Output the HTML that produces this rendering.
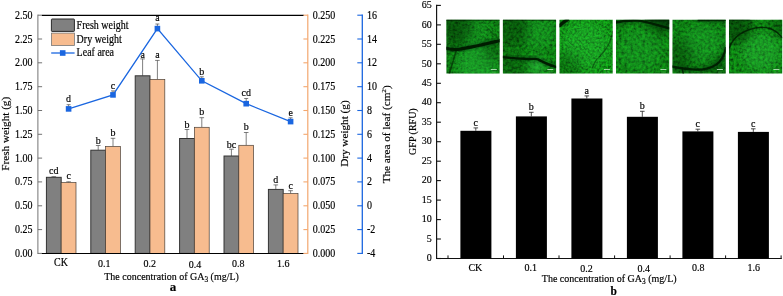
<!DOCTYPE html>
<html><head><meta charset="utf-8"><title>Figure</title>
<style>html,body{margin:0;padding:0;background:#fff}svg{display:block}text{stroke:#000;stroke-width:.16px}</style></head>
<body><svg width="783" height="296" viewBox="0 0 783 296">
<rect width="783" height="296" fill="#fff"/>
<g font-family='"Liberation Serif", "Times New Roman", serif' font-size="10" fill="#000">
<path d="M53.8 177.3V176.7M51.5 176.7H56.1" stroke="#3a3a3a" stroke-width="0.65" fill="none"/>
<path d="M68.6 182.5V181.8M66.3 181.8H70.9" stroke="#3a3a3a" stroke-width="0.65" fill="none"/>
<rect x="46.4" y="177.3" width="14.8" height="76.1" fill="#808080" stroke="#2e2e2e" stroke-width="0.95"/>
<rect x="61.2" y="182.5" width="14.8" height="70.9" fill="#F7BC8F" stroke="#4a4038" stroke-width="0.7"/>
<text transform="translate(53.8,173.7) scale(1,1.08)" text-anchor="middle">cd</text>
<text transform="translate(68.6,179.0) scale(1,1.08)" text-anchor="middle">c</text>
<path d="M98.2 150.2V145.5M95.9 145.5H100.5" stroke="#3a3a3a" stroke-width="0.65" fill="none"/>
<path d="M113.0 146.4V138.3M110.7 138.3H115.3" stroke="#3a3a3a" stroke-width="0.65" fill="none"/>
<rect x="90.8" y="150.2" width="14.8" height="103.2" fill="#808080" stroke="#2e2e2e" stroke-width="0.95"/>
<rect x="105.6" y="146.4" width="14.8" height="107.0" fill="#F7BC8F" stroke="#4a4038" stroke-width="0.7"/>
<text transform="translate(98.2,143.6) scale(1,1.08)" text-anchor="middle">b</text>
<text transform="translate(113.0,136.4) scale(1,1.08)" text-anchor="middle">b</text>
<path d="M142.6 75.8V58.9M140.3 58.9H144.9" stroke="#3a3a3a" stroke-width="0.65" fill="none"/>
<path d="M157.4 79.4V60.4M155.1 60.4H159.7" stroke="#3a3a3a" stroke-width="0.65" fill="none"/>
<rect x="135.2" y="75.8" width="14.8" height="177.6" fill="#808080" stroke="#2e2e2e" stroke-width="0.95"/>
<rect x="150.0" y="79.4" width="14.8" height="174.0" fill="#F7BC8F" stroke="#4a4038" stroke-width="0.7"/>
<text transform="translate(142.6,57.8) scale(1,1.08)" text-anchor="middle">a</text>
<text transform="translate(157.4,57.6) scale(1,1.08)" text-anchor="middle">a</text>
<path d="M187.0 138.5V129.5M184.7 129.5H189.3" stroke="#3a3a3a" stroke-width="0.65" fill="none"/>
<path d="M201.8 127.3V117.7M199.5 117.7H204.1" stroke="#3a3a3a" stroke-width="0.65" fill="none"/>
<rect x="179.6" y="138.5" width="14.8" height="114.9" fill="#808080" stroke="#2e2e2e" stroke-width="0.95"/>
<rect x="194.4" y="127.3" width="14.8" height="126.1" fill="#F7BC8F" stroke="#4a4038" stroke-width="0.7"/>
<text transform="translate(187.0,127.6) scale(1,1.08)" text-anchor="middle">b</text>
<text transform="translate(201.8,115.4) scale(1,1.08)" text-anchor="middle">b</text>
<path d="M231.4 156.0V149.2M229.1 149.2H233.7" stroke="#3a3a3a" stroke-width="0.65" fill="none"/>
<path d="M246.2 145.3V132.5M243.9 132.5H248.5" stroke="#3a3a3a" stroke-width="0.65" fill="none"/>
<rect x="224.0" y="156.0" width="14.8" height="97.4" fill="#808080" stroke="#2e2e2e" stroke-width="0.95"/>
<rect x="238.8" y="145.3" width="14.8" height="108.1" fill="#F7BC8F" stroke="#4a4038" stroke-width="0.7"/>
<text transform="translate(231.4,148.2) scale(1,1.08)" text-anchor="middle">bc</text>
<text transform="translate(246.2,129.8) scale(1,1.08)" text-anchor="middle">b</text>
<path d="M275.8 189.4V184.9M273.5 184.9H278.1" stroke="#3a3a3a" stroke-width="0.65" fill="none"/>
<path d="M290.6 193.5V190.7M288.3 190.7H292.9" stroke="#3a3a3a" stroke-width="0.65" fill="none"/>
<rect x="268.4" y="189.4" width="14.8" height="64.0" fill="#808080" stroke="#2e2e2e" stroke-width="0.95"/>
<rect x="283.2" y="193.5" width="14.8" height="59.9" fill="#F7BC8F" stroke="#4a4038" stroke-width="0.7"/>
<text transform="translate(275.8,182.6) scale(1,1.08)" text-anchor="middle">d</text>
<text transform="translate(290.6,188.5) scale(1,1.08)" text-anchor="middle">c</text>
<path d="M37.9 14.6V254.0" stroke="#6c6c6c" stroke-width="0.95" fill="none"/>
<path d="M37.9 15.2H42.1" stroke="#6c6c6c" stroke-width="0.95"/>
<text transform="translate(32.5,18.7) scale(1,1.2)" text-anchor="end">2.50</text>
<path d="M37.9 39.0H42.1" stroke="#6c6c6c" stroke-width="0.95"/>
<text transform="translate(32.5,42.5) scale(1,1.2)" text-anchor="end">2.25</text>
<path d="M37.9 62.8H42.1" stroke="#6c6c6c" stroke-width="0.95"/>
<text transform="translate(32.5,66.3) scale(1,1.2)" text-anchor="end">2.00</text>
<path d="M37.9 86.7H42.1" stroke="#6c6c6c" stroke-width="0.95"/>
<text transform="translate(32.5,90.2) scale(1,1.2)" text-anchor="end">1.75</text>
<path d="M37.9 110.5H42.1" stroke="#6c6c6c" stroke-width="0.95"/>
<text transform="translate(32.5,114.0) scale(1,1.2)" text-anchor="end">1.50</text>
<path d="M37.9 134.3H42.1" stroke="#6c6c6c" stroke-width="0.95"/>
<text transform="translate(32.5,137.8) scale(1,1.2)" text-anchor="end">1.25</text>
<path d="M37.9 158.1H42.1" stroke="#6c6c6c" stroke-width="0.95"/>
<text transform="translate(32.5,161.6) scale(1,1.2)" text-anchor="end">1.00</text>
<path d="M37.9 181.9H42.1" stroke="#6c6c6c" stroke-width="0.95"/>
<text transform="translate(32.5,185.4) scale(1,1.2)" text-anchor="end">0.75</text>
<path d="M37.9 205.8H42.1" stroke="#6c6c6c" stroke-width="0.95"/>
<text transform="translate(32.5,209.3) scale(1,1.2)" text-anchor="end">0.50</text>
<path d="M37.9 229.6H42.1" stroke="#6c6c6c" stroke-width="0.95"/>
<text transform="translate(32.5,233.1) scale(1,1.2)" text-anchor="end">0.25</text>
<path d="M37.9 253.4H42.1" stroke="#6c6c6c" stroke-width="0.95"/>
<text transform="translate(32.5,256.9) scale(1,1.2)" text-anchor="end">0.00</text>
<path d="M41.9 15.399999999999999H303.8M41.9 253.5H303.8" stroke="#000" stroke-width="1.15" fill="none"/>
<path d="M307.8 14.6V254.0" stroke="#F3A76E" stroke-width="1.2" fill="none"/>
<path d="M307.8 15.2H303.40000000000003" stroke="#F3A76E" stroke-width="1.1"/>
<text transform="translate(312.8,18.7) scale(1,1.2)">0.250</text>
<path d="M307.8 39.0H303.40000000000003" stroke="#F3A76E" stroke-width="1.1"/>
<text transform="translate(312.8,42.5) scale(1,1.2)">0.225</text>
<path d="M307.8 62.8H303.40000000000003" stroke="#F3A76E" stroke-width="1.1"/>
<text transform="translate(312.8,66.3) scale(1,1.2)">0.200</text>
<path d="M307.8 86.7H303.40000000000003" stroke="#F3A76E" stroke-width="1.1"/>
<text transform="translate(312.8,90.2) scale(1,1.2)">0.175</text>
<path d="M307.8 110.5H303.40000000000003" stroke="#F3A76E" stroke-width="1.1"/>
<text transform="translate(312.8,114.0) scale(1,1.2)">0.150</text>
<path d="M307.8 134.3H303.40000000000003" stroke="#F3A76E" stroke-width="1.1"/>
<text transform="translate(312.8,137.8) scale(1,1.2)">0.125</text>
<path d="M307.8 158.1H303.40000000000003" stroke="#F3A76E" stroke-width="1.1"/>
<text transform="translate(312.8,161.6) scale(1,1.2)">0.100</text>
<path d="M307.8 181.9H303.40000000000003" stroke="#F3A76E" stroke-width="1.1"/>
<text transform="translate(312.8,185.4) scale(1,1.2)">0.075</text>
<path d="M307.8 205.8H303.40000000000003" stroke="#F3A76E" stroke-width="1.1"/>
<text transform="translate(312.8,209.3) scale(1,1.2)">0.050</text>
<path d="M307.8 229.6H303.40000000000003" stroke="#F3A76E" stroke-width="1.1"/>
<text transform="translate(312.8,233.1) scale(1,1.2)">0.025</text>
<path d="M307.8 253.4H303.40000000000003" stroke="#F3A76E" stroke-width="1.1"/>
<text transform="translate(312.8,256.9) scale(1,1.2)">0.000</text>
<path d="M362.3 14.6V254.0" stroke="#1A66E0" stroke-width="1.3" fill="none"/>
<path d="M362.3 15.2H357.3" stroke="#1A66E0" stroke-width="1.1"/>
<text transform="translate(367.0,18.7) scale(1,1.2)">16</text>
<path d="M362.3 39.0H357.3" stroke="#1A66E0" stroke-width="1.1"/>
<text transform="translate(367.0,42.5) scale(1,1.2)">14</text>
<path d="M362.3 62.8H357.3" stroke="#1A66E0" stroke-width="1.1"/>
<text transform="translate(367.0,66.3) scale(1,1.2)">12</text>
<path d="M362.3 86.7H357.3" stroke="#1A66E0" stroke-width="1.1"/>
<text transform="translate(367.0,90.2) scale(1,1.2)">10</text>
<path d="M362.3 110.5H357.3" stroke="#1A66E0" stroke-width="1.1"/>
<text transform="translate(367.0,114.0) scale(1,1.2)">8</text>
<path d="M362.3 134.3H357.3" stroke="#1A66E0" stroke-width="1.1"/>
<text transform="translate(367.0,137.8) scale(1,1.2)">6</text>
<path d="M362.3 158.1H357.3" stroke="#1A66E0" stroke-width="1.1"/>
<text transform="translate(367.0,161.6) scale(1,1.2)">4</text>
<path d="M362.3 181.9H357.3" stroke="#1A66E0" stroke-width="1.1"/>
<text transform="translate(367.0,185.4) scale(1,1.2)">2</text>
<path d="M362.3 205.8H357.3" stroke="#1A66E0" stroke-width="1.1"/>
<text transform="translate(367.0,209.3) scale(1,1.2)">0</text>
<path d="M362.3 229.6H357.3" stroke="#1A66E0" stroke-width="1.1"/>
<text transform="translate(367.0,233.1) scale(1,1.2)">-2</text>
<path d="M362.3 253.4H357.3" stroke="#1A66E0" stroke-width="1.1"/>
<text transform="translate(367.0,256.9) scale(1,1.2)">-4</text>
<polyline points="68.6,108.9 113.0,94.9 157.4,28.6 201.8,80.8 246.2,103.7 290.6,121.6" fill="none" stroke="#1A66E0" stroke-width="1.3"/>
<path d="M68.6 108.9V104.7M66.6 104.7H70.6" stroke="#3a3a3a" stroke-width="0.65"/>
<rect x="65.8" y="106.1" width="5.6" height="5.6" fill="#1A66E0"/>
<text transform="translate(68.6,102.4) scale(1,1.08)" text-anchor="middle">d</text>
<path d="M113.0 94.9V90.9M111.0 90.9H115.0" stroke="#3a3a3a" stroke-width="0.65"/>
<rect x="110.2" y="92.1" width="5.6" height="5.6" fill="#1A66E0"/>
<text transform="translate(113.0,88.8) scale(1,1.08)" text-anchor="middle">c</text>
<path d="M157.4 28.6V24.0M155.4 24.0H159.4" stroke="#3a3a3a" stroke-width="0.65"/>
<rect x="154.6" y="25.8" width="5.6" height="5.6" fill="#1A66E0"/>
<text transform="translate(157.4,21.2) scale(1,1.08)" text-anchor="middle">a</text>
<path d="M201.8 80.8V76.8M199.8 76.8H203.8" stroke="#3a3a3a" stroke-width="0.65"/>
<rect x="199.0" y="78.0" width="5.6" height="5.6" fill="#1A66E0"/>
<text transform="translate(201.8,75.2) scale(1,1.08)" text-anchor="middle">b</text>
<path d="M246.2 103.7V98.5M244.2 98.5H248.2" stroke="#3a3a3a" stroke-width="0.65"/>
<rect x="243.4" y="100.9" width="5.6" height="5.6" fill="#1A66E0"/>
<text transform="translate(246.2,96.3) scale(1,1.08)" text-anchor="middle">cd</text>
<path d="M290.6 121.6V117.8M288.6 117.8H292.6" stroke="#3a3a3a" stroke-width="0.65"/>
<rect x="287.8" y="118.8" width="5.6" height="5.6" fill="#1A66E0"/>
<text transform="translate(290.6,116.2) scale(1,1.08)" text-anchor="middle">e</text>
<rect x="51.4" y="19" width="23" height="12.4" rx="0.6" fill="#808080" stroke="#2a2a2a" stroke-width="1.0"/>
<rect x="51.4" y="33.1" width="23" height="12.4" fill="#F7BC8F" stroke="#777" stroke-width="0.8"/>
<path d="M51.2 53H74.6" stroke="#1A66E0" stroke-width="1.3"/><rect x="59.9" y="50.2" width="5.6" height="5.6" fill="#1A66E0"/>
<text transform="translate(76.6,28.9) scale(1,1.2)">Fresh weight</text>
<text transform="translate(76.6,42.9) scale(1,1.2)">Dry weight</text>
<text transform="translate(76.6,55.8) scale(1,1.2)">Leaf area</text>
<text transform="translate(61.0,265.8) scale(1,1.15)" text-anchor="middle">CK</text>
<text transform="translate(104.3,267.0) scale(1,1.07)" text-anchor="middle">0.1</text>
<text transform="translate(149.8,267.0) scale(1,1.07)" text-anchor="middle">0.2</text>
<text transform="translate(194.9,268.0) scale(1,1.07)" text-anchor="middle">0.4</text>
<text transform="translate(238.3,267.0) scale(1,1.07)" text-anchor="middle">0.8</text>
<text transform="translate(283.3,267.0) scale(1,1.07)" text-anchor="middle">1.6</text>
<text transform="translate(171.6,279.8) scale(1,1.02)" text-anchor="middle">The concentration of GA<tspan font-size="7.4" dy="2.4">3</tspan><tspan dy="-2.4"> (mg/L)</tspan></text>
<text transform="translate(173.1,291.2) scale(1,1.0)" text-anchor="middle" font-weight="bold" font-size="13">a</text>
<text transform="translate(9.2,133.8) scale(1,1.12) rotate(-90)" text-anchor="middle">Fresh weight (g)</text>
<text transform="translate(347.6,133.6) scale(1,1.12) rotate(-90)" text-anchor="middle">Dry weight (g)</text>
<text transform="translate(390.0,134.3) scale(1,1.12) rotate(-90)" text-anchor="middle">The area of leaf (cm<tspan font-size="6.5" dy="-3.6">2</tspan><tspan dy="3.6">)</tspan></text>
<path d="M436.6 4.800000000000001V258.5H781.8" stroke="#111" stroke-width="1.15" fill="none"/>
<path d="M436.6 5.4H440.90000000000003" stroke="#111" stroke-width="1.1"/>
<text transform="translate(431.8,8.1) scale(1,1)" text-anchor="end">65</text>
<path d="M436.6 24.9H440.90000000000003" stroke="#111" stroke-width="1.1"/>
<text transform="translate(431.8,27.6) scale(1,1)" text-anchor="end">60</text>
<path d="M436.6 44.3H440.90000000000003" stroke="#111" stroke-width="1.1"/>
<text transform="translate(431.8,47.0) scale(1,1)" text-anchor="end">55</text>
<path d="M436.6 63.8H440.90000000000003" stroke="#111" stroke-width="1.1"/>
<text transform="translate(431.8,66.5) scale(1,1)" text-anchor="end">50</text>
<path d="M436.6 83.3H440.90000000000003" stroke="#111" stroke-width="1.1"/>
<text transform="translate(431.8,86.0) scale(1,1)" text-anchor="end">45</text>
<path d="M436.6 102.7H440.90000000000003" stroke="#111" stroke-width="1.1"/>
<text transform="translate(431.8,105.4) scale(1,1)" text-anchor="end">40</text>
<path d="M436.6 122.2H440.90000000000003" stroke="#111" stroke-width="1.1"/>
<text transform="translate(431.8,124.9) scale(1,1)" text-anchor="end">35</text>
<path d="M436.6 141.7H440.90000000000003" stroke="#111" stroke-width="1.1"/>
<text transform="translate(431.8,144.4) scale(1,1)" text-anchor="end">30</text>
<path d="M436.6 161.2H440.90000000000003" stroke="#111" stroke-width="1.1"/>
<text transform="translate(431.8,163.9) scale(1,1)" text-anchor="end">25</text>
<path d="M436.6 180.6H440.90000000000003" stroke="#111" stroke-width="1.1"/>
<text transform="translate(431.8,183.3) scale(1,1)" text-anchor="end">20</text>
<path d="M436.6 200.1H440.90000000000003" stroke="#111" stroke-width="1.1"/>
<text transform="translate(431.8,202.8) scale(1,1)" text-anchor="end">15</text>
<path d="M436.6 219.6H440.90000000000003" stroke="#111" stroke-width="1.1"/>
<text transform="translate(431.8,222.3) scale(1,1)" text-anchor="end">10</text>
<path d="M436.6 239.0H440.90000000000003" stroke="#111" stroke-width="1.1"/>
<text transform="translate(431.8,241.7) scale(1,1)" text-anchor="end">5</text>
<path d="M436.6 258.5H440.90000000000003" stroke="#111" stroke-width="1.1"/>
<text transform="translate(431.8,261.2) scale(1,1)" text-anchor="end">0</text>
<path d="M475.8 130.8V127.9M473.5 127.9H478.1" stroke="#222" stroke-width="0.8" fill="none"/>
<rect x="460.4" y="130.8" width="31.0" height="127.7" fill="#000"/>
<text transform="translate(475.8,125.9) scale(1,1)" text-anchor="middle">c</text>
<text transform="translate(475.4,270.6) scale(1,1)" text-anchor="middle">CK</text>
<path d="M531.3 116.4V112.3M529.0 112.3H533.6" stroke="#222" stroke-width="0.8" fill="none"/>
<rect x="515.9" y="116.4" width="31.0" height="142.1" fill="#000"/>
<text transform="translate(531.3,110.3) scale(1,1)" text-anchor="middle">b</text>
<text transform="translate(530.8,270.7) scale(1,1)" text-anchor="middle">0.1</text>
<path d="M586.8 98.5V95.9M584.5 95.9H589.1" stroke="#222" stroke-width="0.8" fill="none"/>
<rect x="571.4" y="98.5" width="31.0" height="160.0" fill="#000"/>
<text transform="translate(586.8,93.9) scale(1,1)" text-anchor="middle">a</text>
<text transform="translate(586.6,272.2) scale(1,1)" text-anchor="middle">0.2</text>
<path d="M642.3 116.8V111.3M640.0 111.3H644.6" stroke="#222" stroke-width="0.8" fill="none"/>
<rect x="626.9" y="116.8" width="31.0" height="141.7" fill="#000"/>
<text transform="translate(642.3,109.3) scale(1,1)" text-anchor="middle">b</text>
<text transform="translate(643.7,272.2) scale(1,1)" text-anchor="middle">0.4</text>
<path d="M697.8 131.4V129.2M695.5 129.2H700.1" stroke="#222" stroke-width="0.8" fill="none"/>
<rect x="682.4" y="131.4" width="31.0" height="127.1" fill="#000"/>
<text transform="translate(697.8,127.2) scale(1,1)" text-anchor="middle">c</text>
<text transform="translate(698.3,270.6) scale(1,1)" text-anchor="middle">0.8</text>
<path d="M753.3 131.9V128.8M751.0 128.8H755.6" stroke="#222" stroke-width="0.8" fill="none"/>
<rect x="737.9" y="131.9" width="31.0" height="126.6" fill="#000"/>
<text transform="translate(753.3,126.8) scale(1,1)" text-anchor="middle">c</text>
<text transform="translate(753.8,270.6) scale(1,1)" text-anchor="middle">1.6</text>
<path d="M448.0 258.5V255.4" stroke="#111" stroke-width="1.0"/>
<path d="M503.5 258.5V255.4" stroke="#111" stroke-width="1.0"/>
<path d="M559.0 258.5V255.4" stroke="#111" stroke-width="1.0"/>
<path d="M614.6 258.5V255.4" stroke="#111" stroke-width="1.0"/>
<path d="M670.1 258.5V255.4" stroke="#111" stroke-width="1.0"/>
<path d="M725.6 258.5V255.4" stroke="#111" stroke-width="1.0"/>
<path d="M781.1 258.5V255.4" stroke="#111" stroke-width="1.0"/>
<text transform="translate(609.2,282.0) scale(1,1)" text-anchor="middle">The concentration of GA<tspan font-size="7.4" dy="2.4">3</tspan><tspan dy="-2.4"> (mg/L)</tspan></text>
<text transform="translate(613.7,294.7) scale(1,1)" text-anchor="middle" font-weight="bold" font-size="11.5">b</text>
<text transform="translate(415.8,131.6) scale(1,1) rotate(-90)" text-anchor="middle">GFP (RFU)</text>
</g>
<defs>
<filter id="bb" x="-50%" y="-50%" width="200%" height="200%"><feGaussianBlur stdDeviation="5"/></filter>
<filter id="n0" x="0" y="0" width="100%" height="100%" color-interpolation-filters="sRGB"><feTurbulence type="fractalNoise" baseFrequency="0.42" numOctaves="2" seed="3"/><feColorMatrix type="matrix" values="0 0 0 0 0  0 1.5 0 0 -0.25  0 0 0 0 0  0 0 0 0 1"/><feComponentTransfer><feFuncG type="table" tableValues="0.255 0.357 0.449 0.520 0.581 0.632"/></feComponentTransfer><feColorMatrix type="matrix" values="0 0.11 0 0 0  0 1 0 0 0  0 0.13 0 0 0.01  0 0 0 0 1"/></filter>
<clipPath id="c0"><rect x="0" y="0" width="53.2" height="53.9"/></clipPath>
<filter id="n1" x="0" y="0" width="100%" height="100%" color-interpolation-filters="sRGB"><feTurbulence type="fractalNoise" baseFrequency="0.36" numOctaves="2" seed="10"/><feColorMatrix type="matrix" values="0 0 0 0 0  0 1.5 0 0 -0.25  0 0 0 0 0  0 0 0 0 1"/><feComponentTransfer><feFuncG type="table" tableValues="0.263 0.367 0.462 0.536 0.598 0.651"/></feComponentTransfer><feColorMatrix type="matrix" values="0 0.11 0 0 0  0 1 0 0 0  0 0.13 0 0 0.01  0 0 0 0 1"/></filter>
<clipPath id="c1"><rect x="0" y="0" width="53.2" height="53.9"/></clipPath>
<filter id="n2" x="0" y="0" width="100%" height="100%" color-interpolation-filters="sRGB"><feTurbulence type="fractalNoise" baseFrequency="0.45" numOctaves="2" seed="17"/><feColorMatrix type="matrix" values="0 0 0 0 0  0 1.5 0 0 -0.25  0 0 0 0 0  0 0 0 0 1"/><feComponentTransfer><feFuncG type="table" tableValues="0.300 0.420 0.528 0.612 0.684 0.744"/></feComponentTransfer><feColorMatrix type="matrix" values="0 0.11 0 0 0  0 1 0 0 0  0 0.13 0 0 0.01  0 0 0 0 1"/></filter>
<clipPath id="c2"><rect x="0" y="0" width="53.2" height="53.9"/></clipPath>
<filter id="n3" x="0" y="0" width="100%" height="100%" color-interpolation-filters="sRGB"><feTurbulence type="fractalNoise" baseFrequency="0.34" numOctaves="2" seed="24"/><feColorMatrix type="matrix" values="0 0 0 0 0  0 1.5 0 0 -0.25  0 0 0 0 0  0 0 0 0 1"/><feComponentTransfer><feFuncG type="table" tableValues="0.265 0.371 0.466 0.541 0.604 0.657"/></feComponentTransfer><feColorMatrix type="matrix" values="0 0.11 0 0 0  0 1 0 0 0  0 0.13 0 0 0.01  0 0 0 0 1"/></filter>
<clipPath id="c3"><rect x="0" y="0" width="53.2" height="53.9"/></clipPath>
<filter id="n4" x="0" y="0" width="100%" height="100%" color-interpolation-filters="sRGB"><feTurbulence type="fractalNoise" baseFrequency="0.36" numOctaves="2" seed="31"/><feColorMatrix type="matrix" values="0 0 0 0 0  0 1.5 0 0 -0.25  0 0 0 0 0  0 0 0 0 1"/><feComponentTransfer><feFuncG type="table" tableValues="0.260 0.364 0.458 0.530 0.593 0.645"/></feComponentTransfer><feColorMatrix type="matrix" values="0 0.11 0 0 0  0 1 0 0 0  0 0.13 0 0 0.01  0 0 0 0 1"/></filter>
<clipPath id="c4"><rect x="0" y="0" width="53.2" height="53.9"/></clipPath>
<filter id="n5" x="0" y="0" width="100%" height="100%" color-interpolation-filters="sRGB"><feTurbulence type="fractalNoise" baseFrequency="0.38" numOctaves="2" seed="38"/><feColorMatrix type="matrix" values="0 0 0 0 0  0 1.5 0 0 -0.25  0 0 0 0 0  0 0 0 0 1"/><feComponentTransfer><feFuncG type="table" tableValues="0.270 0.378 0.475 0.551 0.616 0.670"/></feComponentTransfer><feColorMatrix type="matrix" values="0 0.11 0 0 0  0 1 0 0 0  0 0.13 0 0 0.01  0 0 0 0 1"/></filter>
<clipPath id="c5"><rect x="0" y="0" width="53.2" height="53.9"/></clipPath>
<filter id="bh" x="-20%" y="-20%" width="140%" height="140%"><feGaussianBlur stdDeviation="1.6"/></filter>
<filter id="bl" x="-20%" y="-20%" width="140%" height="140%"><feGaussianBlur stdDeviation="0.7"/></filter>
</defs>
<g transform="translate(446.4,19.7)" clip-path="url(#c0)">
<rect width="53.2" height="53.9" fill="#138a22" filter="url(#n0)"/>
<circle cx="30" cy="44" r="20" fill="#2fd04a" opacity="0.35" filter="url(#bb)"/>
<circle cx="30" cy="14" r="16" fill="#2fd04a" opacity="0.18" filter="url(#bb)"/>
<circle cx="8" cy="8" r="18" fill="#001a00" opacity="0.4" filter="url(#bb)"/>
<circle cx="45" cy="32" r="10" fill="#001a00" opacity="0.25" filter="url(#bb)"/>
<g filter="url(#bh)" fill="none" stroke="#032a08" stroke-linecap="round" opacity="0.3">
<path d="M-1 28.2C4 29.8 8 30.3 13 29.6C22 27.8 34 25.5 41 23.7C46 22.5 50 21.8 54 20.9" stroke-width="7.1"/>
</g>
<g filter="url(#bl)" fill="none" stroke="#011c05" stroke-linecap="round">
<path d="M-1 28.2C4 29.8 8 30.3 13 29.6C22 27.8 34 25.5 41 23.7C46 22.5 50 21.8 54 20.9" stroke-width="3.1" opacity="1"/>
<path d="M10 30C8 38 5 46 3 54" stroke-width="1.6" opacity="0.6"/>
<path d="M40 7C45 12 50 18 53.2 20" stroke-width="1.0" opacity="0.45"/>
<path d="M0 0.3H53" stroke-width="1.6" opacity="0.7"/>
</g>
<rect x="44.4" y="49.3" width="6.0" height="0.9" fill="#d4ecd4" opacity="0.85"/><rect x="45.5" y="52" width="4" height="0.7" fill="#9fd09f" opacity="0.35"/>
</g>
<g transform="translate(502.9,19.7)" clip-path="url(#c1)">
<rect width="53.2" height="53.9" fill="#128520" filter="url(#n1)"/>
<circle cx="34" cy="46" r="8" fill="#3fe05a" opacity="0.5" filter="url(#bb)"/>
<circle cx="36" cy="14" r="16" fill="#2fd04a" opacity="0.2" filter="url(#bb)"/>
<circle cx="8" cy="10" r="18" fill="#001a00" opacity="0.35" filter="url(#bb)"/>
<circle cx="10" cy="48" r="14" fill="#001a00" opacity="0.25" filter="url(#bb)"/>
<g filter="url(#bh)" fill="none" stroke="#032a08" stroke-linecap="round" opacity="0.3">
<path d="M0 37.5C8 38.2 16 38.8 24 39.3C29 39.6 32 38.3 35 39.7C39 41.7 45 45 53.2 47.2" stroke-width="6.3"/>
</g>
<g filter="url(#bl)" fill="none" stroke="#011c05" stroke-linecap="round">
<path d="M0 37.5C8 38.2 16 38.8 24 39.3C29 39.6 32 38.3 35 39.7C39 41.7 45 45 53.2 47.2" stroke-width="2.3" opacity="1"/>
<path d="M0 0.3H53" stroke-width="1.4" opacity="0.6"/>
</g>
<rect x="44.4" y="49.3" width="6.0" height="0.9" fill="#d4ecd4" opacity="0.85"/><rect x="45.5" y="52" width="4" height="0.7" fill="#9fd09f" opacity="0.35"/>
</g>
<g transform="translate(559.5,19.7)" clip-path="url(#c2)">
<rect width="53.2" height="53.9" fill="#1a9a2a" filter="url(#n2)"/>
<circle cx="26" cy="26" r="24" fill="#3fe05a" opacity="0.2" filter="url(#bb)"/>
<circle cx="8" cy="46" r="14" fill="#001a00" opacity="0.25" filter="url(#bb)"/>
<g filter="url(#bh)" fill="none" stroke="#032a08" stroke-linecap="round" opacity="0.3">
<path d="M0 6C3 3.5 5 1.5 8 0" stroke-width="7.2"/>
</g>
<g filter="url(#bl)" fill="none" stroke="#011c05" stroke-linecap="round">
<path d="M0 6C3 3.5 5 1.5 8 0" stroke-width="3.2" opacity="1"/>
<path d="M53.2 12C52 18 50 24 46 30C42 36 37 39 35 43C34 45 33.5 46 33 48" stroke-width="1.2" opacity="0.45"/>
</g>
<rect x="44.4" y="49.3" width="6.0" height="0.9" fill="#d4ecd4" opacity="0.85"/><rect x="45.5" y="52" width="4" height="0.7" fill="#9fd09f" opacity="0.35"/>
</g>
<g transform="translate(616.0,19.7)" clip-path="url(#c3)">
<rect width="53.2" height="53.9" fill="#148e24" filter="url(#n3)"/>
<circle cx="24" cy="30" r="22" fill="#2fd04a" opacity="0.18" filter="url(#bb)"/>
<circle cx="46" cy="2" r="12" fill="#001a00" opacity="0.5" filter="url(#bb)"/>
<g filter="url(#bh)" fill="none" stroke="#032a08" stroke-linecap="round" opacity="0.3">
<path d="M0 2.6C6 1.2 14 0.6 22 0.9C30 1.5 40 5 53.2 8.6" stroke-width="6.3"/>
<path d="M30 0H53.2V3" stroke-width="7"/>
</g>
<g filter="url(#bl)" fill="none" stroke="#011c05" stroke-linecap="round">
<path d="M0 2.6C6 1.2 14 0.6 22 0.9C30 1.5 40 5 53.2 8.6" stroke-width="2.3" opacity="0.95"/>
<path d="M30 0H53.2V3" stroke-width="3" opacity="0.6"/>
</g>
<rect x="44.4" y="49.3" width="6.0" height="0.9" fill="#d4ecd4" opacity="0.85"/><rect x="45.5" y="52" width="4" height="0.7" fill="#9fd09f" opacity="0.35"/>
</g>
<g transform="translate(672.5,19.7)" clip-path="url(#c4)">
<rect width="53.2" height="53.9" fill="#138a22" filter="url(#n4)"/>
<circle cx="30" cy="24" r="20" fill="#2fd04a" opacity="0.22" filter="url(#bb)"/>
<circle cx="6" cy="36" r="16" fill="#001a00" opacity="0.3" filter="url(#bb)"/>
<circle cx="46" cy="50" r="12" fill="#001a00" opacity="0.3" filter="url(#bb)"/>
<g filter="url(#bh)" fill="none" stroke="#032a08" stroke-linecap="round" opacity="0.3">
<path d="M53.2 28.5C52.6 32 51 37 47 42C43 46.3 38 48.6 30 49.6C22 50.3 12 49.5 0 47" stroke-width="6.2"/>
<path d="M26 0.6H53.2" stroke-width="6"/>
</g>
<g filter="url(#bl)" fill="none" stroke="#011c05" stroke-linecap="round">
<path d="M53.2 28.5C52.6 32 51 37 47 42C43 46.3 38 48.6 30 49.6C22 50.3 12 49.5 0 47" stroke-width="2.2" opacity="0.95"/>
<path d="M9.7 48.5C10 51 10.5 52.5 10.8 54" stroke-width="1.6" opacity="0.8"/>
<path d="M26 0.6H53.2" stroke-width="2" opacity="0.8"/>
</g>
<rect x="44.4" y="49.3" width="6.0" height="0.9" fill="#d4ecd4" opacity="0.85"/><rect x="45.5" y="52" width="4" height="0.7" fill="#9fd09f" opacity="0.35"/>
</g>
<g transform="translate(729.0,19.7)" clip-path="url(#c5)">
<rect width="53.2" height="53.9" fill="#16922a" filter="url(#n5)"/>
<circle cx="32" cy="32" r="20" fill="#3fe05a" opacity="0.25" filter="url(#bb)"/>
<circle cx="6" cy="6" r="18" fill="#001a00" opacity="0.45" filter="url(#bb)"/>
<circle cx="50" cy="6" r="10" fill="#001a00" opacity="0.3" filter="url(#bb)"/>
<g filter="url(#bh)" fill="none" stroke="#032a08" stroke-linecap="round" opacity="0.3">
<path d="M0 0H20" stroke-width="6"/>
</g>
<g filter="url(#bl)" fill="none" stroke="#011c05" stroke-linecap="round">
<path d="M0.5 28C2 23 5 19 10 15C16 11 24 8 32 7.5C39 7.3 45 10 49 13.5C51 15.5 52.5 17 53.2 18" stroke-width="1.6" opacity="0.8"/>
<path d="M0 0H20" stroke-width="2" opacity="0.5"/>
</g>
<rect x="44.4" y="49.3" width="6.0" height="0.9" fill="#d4ecd4" opacity="0.85"/><rect x="45.5" y="52" width="4" height="0.7" fill="#9fd09f" opacity="0.35"/>
</g>
</svg></body></html>
